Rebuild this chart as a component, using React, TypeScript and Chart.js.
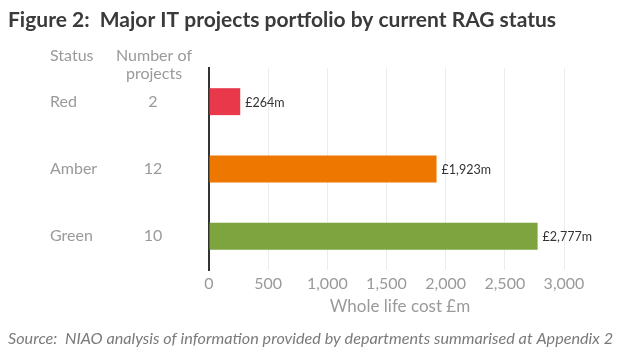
import React, { useEffect, useRef } from "react";
import { Chart, registerables } from "chart.js";

Chart.register(...registerables);

const statuses = ["Red", "Amber", "Green"];
const projectCounts = [2, 12, 10];
const costs = [264, 1923, 2777];
const costLabels = ["£264m", "£1,923m", "£2,777m"];
const barColors = ["#E8384A", "#EE7700", "#7DA43E"];
const xTicks = [0, 500, 1000, 1500, 2000, 2500, 3000];

const TITLE = "Figure 2:  Major IT projects portfolio by current RAG status";
const SOURCE = "Source:  NIAO analysis of information provided by departments summarised at Appendix 2";
const X_TITLE = "Whole life cost £m";
const FONT = "Lato, 'Open Sans', sans-serif";

const textPlugin = {
  id: "textPlugin",
  afterDraw(chart: any) {
    const ctx = chart.ctx;
    const y = chart.scales.y;
    const x = chart.scales.x;
    ctx.save();
    // Title
    ctx.fillStyle = "#3a3a3a";
    ctx.font = `bold 21px ${FONT}`;
    ctx.textAlign = "left";
    ctx.textBaseline = "middle";
    ctx.fillText(TITLE, 8, 20);
    // Column headers
    ctx.fillStyle = "#9a9a9a";
    ctx.font = `16px ${FONT}`;
    ctx.fillText("Status", 50, 56);
    ctx.textAlign = "center";
    ctx.fillText("Number of", 154, 56);
    ctx.fillText("projects", 154, 74);
    // Rows
    statuses.forEach((s, i) => {
      const py = y.getPixelForValue(i);
      ctx.textAlign = "left";
      ctx.fillText(s, 50, py);
      ctx.textAlign = "center";
      ctx.fillText(String(projectCounts[i]), 153, py);
    });
    // X axis title
    ctx.font = `17px ${FONT}`;
    ctx.textAlign = "center";
    ctx.fillText(X_TITLE, 400, 307);
    // Value labels
    ctx.fillStyle = "#333333";
    ctx.font = `12.5px ${FONT}`;
    ctx.textAlign = "left";
    costs.forEach((v, i) => {
      const px = x.getPixelForValue(v);
      const py = y.getPixelForValue(i);
      ctx.fillText(costLabels[i], px + 5, py + 1);
    });
    // Source
    ctx.fillStyle = "#7a7a7a";
    ctx.font = `italic 16.2px ${FONT}`;
    ctx.textAlign = "left";
    ctx.fillText(SOURCE, 8, 339);
    ctx.restore();
  },
};

export default function App() {
  const ref = useRef<HTMLCanvasElement>(null);
  useEffect(() => {
    const chart = new Chart(ref.current!, {
      type: "bar",
      data: {
        labels: statuses,
        datasets: [
          {
            data: costs,
            backgroundColor: barColors,
            categoryPercentage: 0.4,
            barPercentage: 1,
          },
        ],
      },
      options: {
        indexAxis: "y",
        animation: false,
        responsive: false,
        layout: { padding: { left: 209, top: 68, right: 56, bottom: 34 } },
        plugins: { legend: { display: false }, tooltip: { enabled: false } },
        scales: {
          x: {
            min: 0,
            max: 3000,
            afterFit: (s: any) => {
              s.height = 50;
            },
            afterBuildTicks: (s: any) => {
              s.ticks = xTicks.map((v) => ({ value: v }));
            },
            ticks: {
              color: "#9a9a9a",
              font: { family: FONT, size: 16 },
              padding: 4,
              callback: (v: any) => Number(v).toLocaleString("en-GB"),
            },
            grid: { color: "#ececec", drawTicks: false },
            border: { display: false },
          },
          y: {
            afterFit: (s: any) => {
              s.width = 0;
            },
            ticks: { display: false },
            grid: { display: false },
            border: { display: true, color: "#333333", width: 2 },
          },
        },
      },
      plugins: [textPlugin],
    });
    return () => chart.destroy();
  }, []);
  return (
    <div style={{ position: "fixed", left: 0, top: 0, width: 620, height: 354, background: "#fff" }}>
      <canvas ref={ref} width={620} height={354} style={{ width: 620, height: 354 }} />
    </div>
  );
}
